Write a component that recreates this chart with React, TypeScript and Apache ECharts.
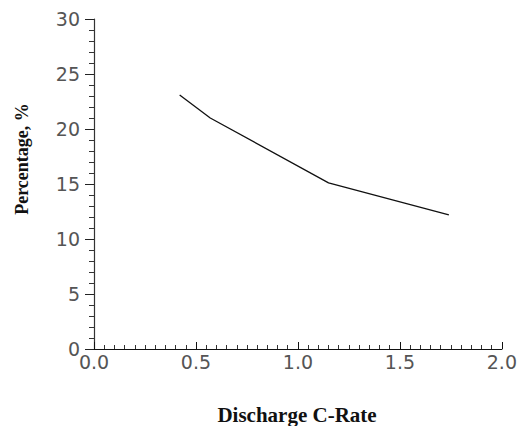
import React, { useEffect, useRef } from "react";
import * as echarts from "echarts";

const cRate = [0.42, 0.57, 1.15, 1.74];
const percentage = [23.1, 21.0, 15.1, 12.2];
const xTitle = "Discharge C-Rate";
const yTitle = "Percentage, %";

export default function App() {
  const ref = useRef<HTMLDivElement>(null);
  useEffect(() => {
    if (!ref.current) return;
    const chart = echarts.init(ref.current, null, { renderer: "svg" });
    const labelFont = {
      fontFamily: "DejaVu Sans",
      fontWeight: "normal",
      fontSize: 19,
      color: "#555",
    };
    chart.setOption({
      animation: false,
      backgroundColor: "#fff",
      grid: { left: 94, top: 19, right: 12, bottom: 77, containLabel: false },
      xAxis: {
        type: "value",
        min: 0,
        max: 2,
        interval: 0.5,
        axisLine: { show: true, lineStyle: { color: "#111", width: 1.2 } },
        axisTick: { show: true, inside: true, length: 7, lineStyle: { color: "#111" } },
        minorTick: { show: true, splitNumber: 10, length: 4, lineStyle: { color: "#333" } },
        splitLine: { show: false },
        axisLabel: { ...labelFont, margin: 3, formatter: (v: number) => v.toFixed(1) },
      },
      yAxis: {
        type: "value",
        min: 0,
        max: 30,
        interval: 5,
        axisLine: { show: true, lineStyle: { color: "#333", width: 1.2 } },
        axisTick: { show: true, inside: false, length: 9, lineStyle: { color: "#222" } },
        minorTick: { show: true, splitNumber: 5, length: 5, lineStyle: { color: "#333" } },
        splitLine: { show: false },
        axisLabel: { ...labelFont, margin: 14 },
      },
      graphic: [
        {
          type: "text",
          x: 297,
          y: 415,
          style: {
            text: xTitle,
            fontFamily: "Liberation Serif",
            fontWeight: "bold",
            fontSize: 21,
            fill: "#111",
            align: "center",
            verticalAlign: "middle",
          },
        },
        {
          type: "text",
          x: 22,
          y: 159,
          rotation: Math.PI / 2,
          style: {
            text: yTitle,
            fontFamily: "Liberation Serif",
            fontWeight: "bold",
            fontSize: 18,
            fill: "#111",
            align: "center",
            verticalAlign: "middle",
          },
        },
      ],
      series: [
        {
          type: "line",
          data: cRate.map((x, i) => [x, percentage[i]]),
          showSymbol: false,
          symbol: "none",
          lineStyle: { color: "#111", width: 1.3 },
        },
      ],
    });
    return () => chart.dispose();
  }, []);
  return (
    <div
      ref={ref}
      style={{ position: "absolute", left: 0, top: 0, width: 520, height: 426 }}
    />
  );
}
